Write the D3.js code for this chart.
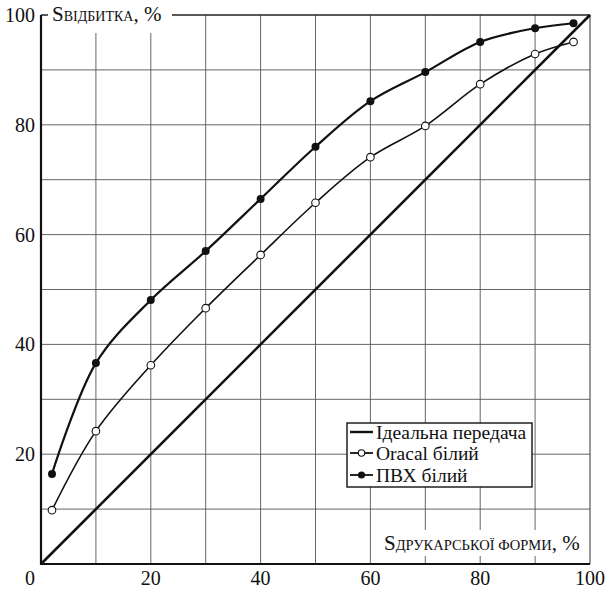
<!DOCTYPE html>
<html>
<head>
<meta charset="utf-8">
<script src="https://cdn.jsdelivr.net/npm/d3@7"></script>
<style>
  body { margin: 0; background: #fff; }
  text { font-family: "Liberation Serif", "DejaVu Serif", serif; fill: #111; }
</style>
</head>
<body>
<script>
var w = 606;
var h = 589;

// data
var xVals   = [2, 10, 20, 30, 40, 50, 60, 70, 80, 90, 97];
var pvc     = [16.4, 36.6, 48.1, 57.0, 66.5, 76.0, 84.3, 89.6, 95.1, 97.6, 98.5];
var oracal  = [9.8, 24.2, 36.2, 46.6, 56.3, 65.8, 74.1, 79.8, 87.4, 92.9, 95.1];
var ideal   = [[0, 0], [100, 100]];
var xTicks  = [0, 20, 40, 60, 80, 100];
var yTicks  = [20, 40, 60, 80, 100];
var gridVals = [10, 20, 30, 40, 50, 60, 70, 80, 90];
var legendNames = ["Ідеальна передача", "Oracal білий", "ПВХ білий"];

var x = d3.scaleLinear().domain([0, 100]).range([41, 590]);
var y = d3.scaleLinear().domain([0, 100]).range([564, 15]);

var svg = d3.select("body")
            .append("svg")
            .attr("width", w)
            .attr("height", h);

// grid
svg.selectAll("line.gx")
   .data(gridVals)
   .enter()
   .append("line")
   .attr("class", "gx")
   .attr("x1", function(d){ return x(d) })
   .attr("x2", function(d){ return x(d) })
   .attr("y1", y(0))
   .attr("y2", y(100))
   .attr("stroke", "#555")
   .attr("stroke-width", 0.9);

svg.selectAll("line.gy")
   .data(gridVals)
   .enter()
   .append("line")
   .attr("class", "gy")
   .attr("x1", x(0))
   .attr("x2", x(100))
   .attr("y1", function(d){ return y(d) })
   .attr("y2", function(d){ return y(d) })
   .attr("stroke", "#555")
   .attr("stroke-width", 0.9);

// frame: top and right thin, axes thick
svg.append("line").attr("x1", x(0)).attr("x2", x(100)).attr("y1", y(100)).attr("y2", y(100))
   .attr("stroke", "#222").attr("stroke-width", 1.3);
svg.append("line").attr("x1", x(100)).attr("x2", x(100)).attr("y1", y(0)).attr("y2", y(100))
   .attr("stroke", "#333").attr("stroke-width", 1);
svg.append("line").attr("x1", x(0)).attr("x2", x(0)).attr("y1", y(0) + 1).attr("y2", y(100))
   .attr("stroke", "#111").attr("stroke-width", 2.2);
svg.append("line").attr("x1", x(0) - 1).attr("x2", x(100)).attr("y1", y(0)).attr("y2", y(0))
   .attr("stroke", "#111").attr("stroke-width", 2.2);

// white boxes behind axis titles
svg.append("rect").attr("x", 48).attr("y", 3).attr("width", 124).attr("height", 30).attr("fill", "#fff");
svg.append("rect").attr("x", 378).attr("y", 530).attr("width", 211).attr("height", 26).attr("fill", "#fff");

// tick labels
svg.selectAll("text.xt")
   .data(xTicks)
   .enter()
   .append("text")
   .attr("class", "xt")
   .attr("x", function(d){ return d == 0 ? x(d) - 11 : x(d) })
   .attr("y", 585)
   .attr("text-anchor", "middle")
   .attr("font-size", 20)
   .text(function(d){ return d });

svg.selectAll("text.yt")
   .data(yTicks)
   .enter()
   .append("text")
   .attr("class", "yt")
   .attr("x", 35)
   .attr("y", function(d){ return y(d) + 7 })
   .attr("text-anchor", "end")
   .attr("font-size", 20)
   .text(function(d){ return d });

// axis titles
var yt = svg.append("text").attr("x", 52).attr("y", 21).attr("font-size", 21);
yt.append("tspan").text("S");
yt.append("tspan").attr("font-size", 14).text("ВІДБИТКА");
yt.append("tspan").text(", %");

var xt = svg.append("text").attr("x", 384).attr("y", 550).attr("font-size", 21);
xt.append("tspan").text("S");
xt.append("tspan").attr("font-size", 14.5).text("ДРУКАРСЬКОЇ ФОРМИ");
xt.append("tspan").text(", %");

// lines
svg.append("path")
   .datum(ideal)
   .attr("d", d3.line().x(function(d){ return x(d[0]) }).y(function(d){ return y(d[1]) }))
   .attr("fill", "none")
   .attr("stroke", "#111")
   .attr("stroke-width", 2.6);

var curve = d3.line()
              .x(function(d, i){ return x(xVals[i]) })
              .y(function(d){ return y(d) })
              .curve(d3.curveCatmullRom.alpha(0.5));

svg.append("path")
   .datum(oracal)
   .attr("d", curve)
   .attr("fill", "none")
   .attr("stroke", "#111")
   .attr("stroke-width", 1.6);

svg.append("path")
   .datum(pvc)
   .attr("d", curve)
   .attr("fill", "none")
   .attr("stroke", "#111")
   .attr("stroke-width", 2.2);

svg.selectAll("circle.or")
   .data(oracal)
   .enter()
   .append("circle")
   .attr("class", "or")
   .attr("cx", function(d, i){ return x(xVals[i]) })
   .attr("cy", function(d){ return y(d) })
   .attr("r", 3.8)
   .attr("fill", "#fff")
   .attr("stroke", "#111")
   .attr("stroke-width", 1.1);

svg.selectAll("circle.pv")
   .data(pvc)
   .enter()
   .append("circle")
   .attr("class", "pv")
   .attr("cx", function(d, i){ return x(xVals[i]) })
   .attr("cy", function(d){ return y(d) })
   .attr("r", 4)
   .attr("fill", "#111");

// legend
var lg = svg.append("g");
lg.append("rect")
  .attr("x", 347).attr("y", 423).attr("width", 185).attr("height", 64)
  .attr("fill", "#fff").attr("stroke", "#111").attr("stroke-width", 1.4);

var rowY = [432, 453, 475];
lg.selectAll("line.lr")
  .data(legendNames)
  .enter()
  .append("line")
  .attr("x1", 350).attr("x2", 373)
  .attr("y1", function(d, i){ return rowY[i] })
  .attr("y2", function(d, i){ return rowY[i] })
  .attr("stroke", "#111")
  .attr("stroke-width", function(d, i){ return i == 0 ? 2.4 : 1.8 });

lg.append("circle").attr("cx", 361.5).attr("cy", rowY[1]).attr("r", 3.2)
  .attr("fill", "#fff").attr("stroke", "#111").attr("stroke-width", 1.1);
lg.append("circle").attr("cx", 361.5).attr("cy", rowY[2]).attr("r", 3.6).attr("fill", "#111");

lg.selectAll("text.lt")
  .data(legendNames)
  .enter()
  .append("text")
  .attr("x", 376)
  .attr("y", function(d, i){ return rowY[i] + 6.5 })
  .attr("font-size", 19.5)
  .text(function(d){ return d });
</script>
</body>
</html>
